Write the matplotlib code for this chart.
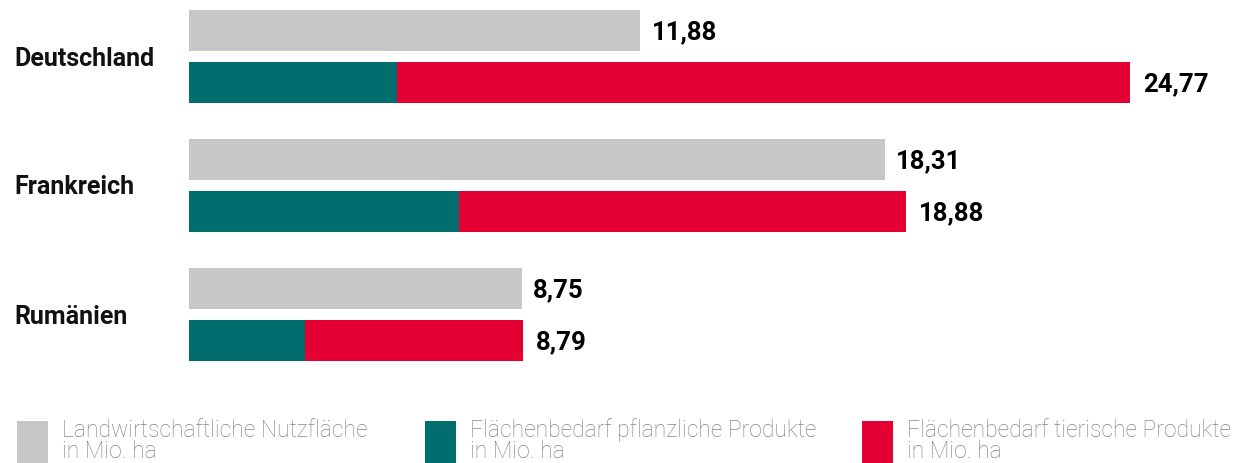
import matplotlib
matplotlib.use('Agg')
import matplotlib.pyplot as plt
from matplotlib.patches import Rectangle
from matplotlib.transforms import blended_transform_factory

# data (Mio. ha)
countries = ["Deutschland", "Frankreich", "Rumänien"]
nutzflaeche = [11.88, 18.31, 8.75]
pflanzlich = [5.47, 7.10, 3.05]
gesamtbedarf = [24.77, 18.88, 8.79]
legend_labels = ["Landwirtschaftliche Nutzfläche", "Flächenbedarf pflanzliche Produkte",
                 "Flächenbedarf tierische Produkte"]
legend_unit = "in Mio. ha"

GRAY = '#c6c7c6'
TEAL = '#006e6f'
RED = '#e40032'
W, H = 1254, 463

plt.rcParams['font.family'] = ['Roboto', 'DejaVu Sans']

fig = plt.figure(figsize=(W / 100, H / 100), dpi=100)
fig.patch.set_facecolor('white')


def fx(px):
    return px / W


def fy(py):
    return 1 - py / H


ax = fig.add_axes([fx(189), fy(400), fx(W - 189), 400 / H])
ax.set_xlim(0, (W - 189) / 38.0)
unit = 129.0
ax.set_ylim((400 - 56) / unit, -56 / unit)
ax.axis('off')

bh = 41 / unit
off = 26 / unit
tierisch = [t - p for t, p in zip(gesamtbedarf, pflanzlich)]
ys = list(range(len(countries)))
y_top = [y - off for y in ys]
y_bot = [y + off for y in ys]

ax.barh(y_top, nutzflaeche, height=bh, color=GRAY, linewidth=0)
ax.barh(y_bot, pflanzlich, height=bh, color=TEAL, linewidth=0)
ax.barh(y_bot, tierisch, left=pflanzlich, height=bh, color=RED, linewidth=0)

fmt = lambda v: f"{v:.2f}".replace('.', ',')
for y, v in zip(y_top, nutzflaeche):
    ax.text(v + 0.3, y, fmt(v), va='center_baseline', ha='left',
            fontsize=18.5, fontweight='bold', color='black')
for y, v in zip(y_bot, gesamtbedarf):
    ax.text(v + 0.33, y, fmt(v), va='center_baseline', ha='left',
            fontsize=18.5, fontweight='bold', color='black')

lab_tr = blended_transform_factory(fig.transFigure, ax.transData)
for y, name in zip(ys, countries):
    ax.text(fx(14), y, name, transform=lab_tr,
            va='center_baseline', ha='left', fontsize=18, fontweight='bold', color='#111111')

# legend
leg_x = [17, 425, 862]
leg_colors = [GRAY, TEAL, RED]
for x, c, lab in zip(leg_x, leg_colors, legend_labels):
    fig.add_artist(Rectangle((fx(x), 0), fx(31), fy(421), transform=fig.transFigure,
                             facecolor=c, edgecolor='none'))
    fig.text(fx(x + 45), fy(437), lab, va='baseline', ha='left', fontsize=16.5,
             fontweight='light', color='#858585')
    fig.text(fx(x + 45), fy(458), legend_unit, va='baseline', ha='left', fontsize=16.5,
             fontweight='light', color='#858585')

fig.savefig('out.png', dpi=100, facecolor='white')
